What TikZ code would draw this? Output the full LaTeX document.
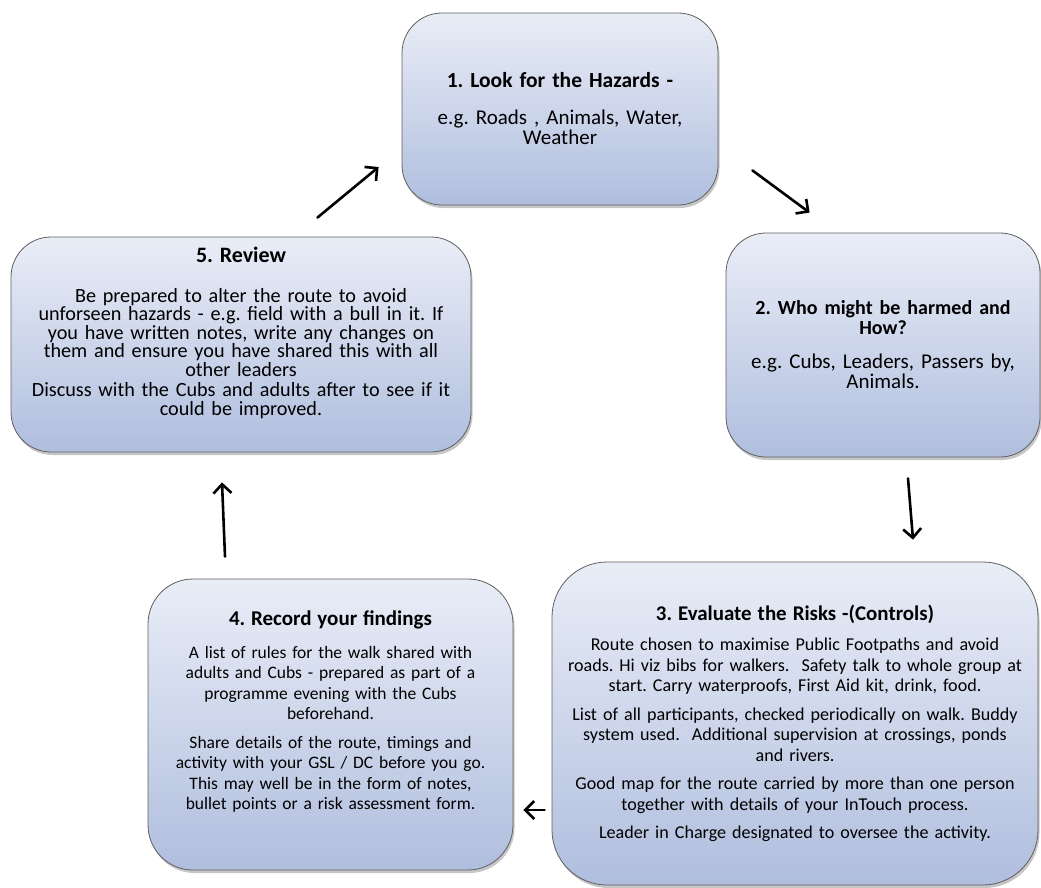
\documentclass[tikz,border=0pt]{standalone}
\usepackage{fontspec}
\setmainfont{Carlito}
\usetikzlibrary{arrows.meta,shadows}
\definecolor{boxtop}{RGB}{233,237,247}
\definecolor{boxbot}{RGB}{176,190,222}
\definecolor{boxline}{RGB}{95,95,95}
\setlength{\lineskiplimit}{-50pt}
\frenchspacing
\newcommand{\stagetitle}[2][21]{{\fontsize{#1}{20}\selectfont\bfseries #2}}

\begin{document}
\begin{tikzpicture}[x=1pt,y=-1pt,
  stage/.style={draw=boxline,line width=0.8pt,rounded corners=40pt,
    top color=boxtop,bottom color=boxbot,align=center,inner sep=0pt,
    drop shadow={shadow xshift=1.5pt,shadow yshift=-3pt,opacity=0.45}},
  big/.style={font=\fontsize{21}{20}\selectfont},
  small/.style={font=\fontsize{17.8}{20.5}\selectfont},
  flow/.style={line width=2.6pt,line cap=round,
    -{Straight Barb[length=9pt,width=18pt,line width=2.6pt]}}]
\useasboundingbox (0,0) rectangle (1041,887);

\node[stage,big,minimum width=316pt,minimum height=192pt,text width=300pt] (look) at (560,109)
  {\stagetitle[21.5]{1. Look for the Hazards -}\\[17pt]
   e.g. Roads , Animals, Water,\\
   Weather};
\node[stage,big,minimum width=314pt,minimum height=224pt,text width=300pt] (who) at (883,345)
  {\stagetitle[20]{2. Who might be harmed and}\\
   \stagetitle[20]{How?}\\[14pt]
   e.g. Cubs, Leaders, Passers by,\\
   Animals.};
\node[stage,small,font=\fontsize{18.1}{20.5}\selectfont,rounded corners=55pt,minimum width=486pt,minimum height=323pt,text width=470pt] (risk) at (795,723.5)
  {\stagetitle[20.9]{3. Evaluate the Risks -(Controls)}\\[10pt]
   Route chosen to maximise Public Footpaths and avoid\\
   roads. Hi viz bibs for walkers.\ \ Safety talk to whole group at\\
   start. Carry waterproofs, First Aid kit,\ drink, food.\\[8pt]
   List of all participants, checked periodically on walk. Buddy\\
   system used.\ \ Additional supervision at crossings, ponds\\
   and rivers.\\[8pt]
   Good map for the route carried by more than one person\\
   together with details of your InTouch process.\\[8pt]
   Leader in Charge designated to oversee the activity.};
\node[stage,small,font=\fontsize{17.5}{20.5}\selectfont,rounded corners=45pt,minimum width=365pt,minimum height=291pt,text width=350pt] (record) at (330.5,724.5)
  {\stagetitle{4. Record your findings}\\[12pt]
   A list of rules for the walk shared with\\
   adults and Cubs - prepared as part of a\\
   programme evening with the Cubs\\
   beforehand.\\[8pt]
   Share details of the route, timings and\\
   activity with your GSL / DC before you go.\\
   This may well be in the form of notes,\\
   bullet points or a risk assessment form.\\[8pt]
   \mbox{}};
\node[stage,font=\fontsize{20.2}{18.5}\selectfont,minimum width=460pt,minimum height=215pt,text width=450pt] (review) at (241,344.5)
  {\stagetitle[22]{5. Review}\\[21pt]
   Be prepared to alter the route to avoid\\
   unforseen hazards - e.g. field with a bull in it. If\\
   you have written notes, write any changes on\\
   them and ensure you have shared this with all\\
   other leaders\\[2pt]
   Discuss with the Cubs and adults after to see if it\\
   could be improved.\\[8pt]
   \mbox{}};

\draw[flow] ([shift={(34,-35)}]look.south east) -- ([shift={(84,-20)}]who.north west);
\draw[flow] ([shift={(25,21)}]who.south) -- ([shift={(118,-22)}]risk.north);
\draw[flow] ([shift={(-7,86.5)}]risk.west) -- ([shift={(10,85.5)}]record.east);
\draw[flow] ([shift={(-105.5,-22)}]record.north) -- ([shift={(-19,30)}]review.south);
\draw[flow] ([shift={(-154,-19)}]review.north east) -- ([shift={(-23,58)}]look.west);
\end{tikzpicture}
\end{document}
